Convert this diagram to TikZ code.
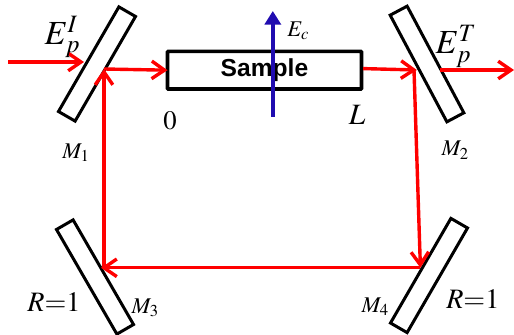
\documentclass[tikz,border=0pt]{standalone}
\usepackage{mathptmx}
\usepackage{fontspec}
\setmainfont{Liberation Serif}
\newfontfamily\samplefont{Liberation Sans}
\usepackage{xcolor}
\colorlet{myred}{red}
\definecolor{myblue}{RGB}{32,12,176}
\usetikzlibrary{arrows.meta}
\tikzset{
  mirror/.style={draw, line width=0.075cm, minimum width=0.48cm, minimum height=3.02cm, inner sep=0pt, outer sep=0pt},
  ray/.style={myred, line width=0.085cm, -{Straight Barb[length=0.32cm, width=0.44cm, line width=0.085cm]}},
  field/.style={myblue, line width=0.1cm, -{Triangle[length=0.34cm, width=0.4cm]}},
  lab/.style={inner sep=0pt, font=\fontsize{16pt}{16pt}\selectfont},
  biglab/.style={inner sep=0pt, font=\fontsize{24pt}{24pt}\selectfont},
  midlab/.style={inner sep=0pt, font=\fontsize{19pt}{19pt}\selectfont},
}
\begin{document}
\begin{tikzpicture}
      \useasboundingbox (0cm,0cm) rectangle (12.85cm,8.375cm);
      \node[mirror, rotate=-30] (m1) at (2.425cm,6.775cm) {};
      \node[mirror, rotate=28] (m2) at (10.675cm,6.775cm) {};
      \node[mirror, rotate=30] (m3) at (2.375cm,1.45cm) {};
      \node[mirror, rotate=-30] (m4) at (10.725cm,1.4875cm) {};
      \node[draw, line width=0.09cm, minimum width=4.85cm, minimum height=0.94cm, inner sep=0pt, outer sep=0pt, rounded corners=0.5pt,
        font=\samplefont\bfseries\fontsize{17.5pt}{17.5pt}\selectfont] (sample) at (6.6125cm,6.62cm) {Sample};

      \coordinate (in0) at (0.2cm,6.825cm);
      \coordinate (in1) at (2.1cm,6.825cm);
      \coordinate (p1) at (2.6cm,6.65cm);
      \coordinate (s1) at (9.08cm,6.66cm);
      \coordinate (p2) at (10.42cm,6.625cm);
      \coordinate (p2a) at (10.35cm,6.625cm);
      \coordinate (out0) at (11cm,6.625cm);
      \coordinate (out1) at (12.85cm,6.625cm);
      \coordinate (p4) at (10.51cm,1.68cm);
      \coordinate (p3) at (2.525cm,1.68cm);
      \coordinate (p3a) at (2.6cm,1.68cm);
      \coordinate (e0) at (6.82cm,5.45cm);
      \coordinate (e1) at (6.82cm,8.1cm);

      \draw[ray] (in0) -- (in1);
      \draw[ray] (p1) -- (sample.west);
      \draw[ray] (s1) -- (p2);
      \draw[ray] (out0) -- (out1);
      \draw[ray] (p2a) -- (p4);
      \draw[ray] (p4) -- (p3);
      \draw[ray] (p3a) -- (p1);
      \draw[field] (e0) -- (e1);

      \node[biglab] (ei) at (1.56cm,7.45cm) {\(E_p^I\)};
      \node[biglab] (et) at (11.4cm,7.22cm) {\(E_p^T\)};
      \node[lab] (ec) at (7.46cm,7.6cm) {\(E_c\)};
      \node[midlab] (zero) at (4.25cm,5.35cm) {\(0\)};
      \node[midlab, font=\fontsize{21pt}{21pt}\selectfont] (ell) at (8.93cm,5.5cm) {\(L\)};
      \node[lab] (m1lab) at (1.9cm,4.55cm) {\(M_1\)};
      \node[lab] (m2lab) at (11.38cm,4.62cm) {\(M_2\)};
      \node[lab] (m3lab) at (3.63cm,0.68cm) {\(M_3\)};
      \node[lab] (m4lab) at (9.38cm,0.7cm) {\(M_4\)};
      \node[midlab, font=\fontsize{20pt}{20pt}\selectfont] (r3) at (1.35cm,0.83cm) {\(R{=}1\)};
      \node[midlab, font=\fontsize{20pt}{20pt}\selectfont] (r4) at (11.82cm,0.9cm) {\(R{=}1\)};
    \end{tikzpicture}
\end{document}
